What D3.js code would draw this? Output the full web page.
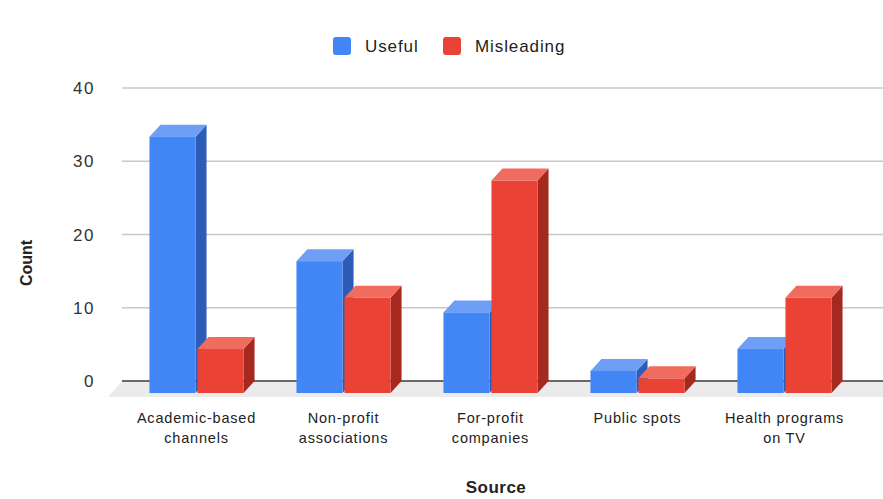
<!DOCTYPE html>
<html>
<head>
<meta charset="utf-8">
<script src="https://cdn.jsdelivr.net/npm/d3@7"></script>
<style>
  body { margin: 0; background: #fff; }
  text { font-family: "Liberation Sans", Arial, sans-serif; }
</style>
</head>
<body>
<script>
// data
const categories = ["Academic-based\nchannels", "Non-profit\nassociations", "For-profit\ncompanies", "Public spots", "Health programs\non TV"];
const seriesNames = ["Useful", "Misleading"];
const useful = [35, 18, 11, 3, 6];
const misleading = [6, 13, 29, 2, 13];
const yTicks = [0, 10, 20, 30, 40];

const W = 883, H = 499;
const depthX = 11, depthY = 12; // 3d offset of the back face

const colors = {
    Useful: { front: "#4285f4", top: "#6c9ff5", side: "#2c5cb8" },
    Misleading: { front: "#ea4335", top: "#ef6c5f", side: "#a5291e" }
};

const svg = d3.select("body").append("svg")
    .attr("width", W)
    .attr("height", H);

// scales -- gridlines sit on the back wall, bars stand in front of it
const x0 = d3.scaleBand()
    .domain(categories)
    .range([123, 858])
    .paddingInner(0.36)
    .paddingOuter(0.18);

const x1 = d3.scaleBand()
    .domain(seriesNames)
    .range([0, x0.bandwidth()])
    .paddingInner(0.04);

const y = d3.scaleLinear()
    .domain([0, 40])
    .range([381, 88]);

// gridlines
svg.append("g")
    .selectAll("line")
    .data(yTicks.filter(d => d > 0))
    .join("line")
    .attr("x1", 122)
    .attr("x2", W)
    .attr("y1", d => y(d))
    .attr("y2", d => y(d))
    .attr("stroke", "#c8c8c8")
    .attr("stroke-width", 1.5);

// floor
const y0 = y(0);
svg.append("path")
    .attr("d", `M122,${y0} L${W + 20},${y0} L${W + 20 - 14},${y0 + 16} L108,${y0 + 16} Z`)
    .attr("fill", "#ebebeb");

// baseline
svg.append("line")
    .attr("x1", 122)
    .attr("x2", W)
    .attr("y1", y0)
    .attr("y2", y0)
    .attr("stroke", "#3a3a3a")
    .attr("stroke-width", 1.5);

// y tick labels
svg.append("g")
    .selectAll("text")
    .data(yTicks)
    .join("text")
    .attr("x", 95)
    .attr("y", d => y(d))
    .attr("dy", "0.36em")
    .attr("text-anchor", "end")
    .attr("font-size", 17)
    .attr("letter-spacing", 1.5)
    .attr("fill", "#333")
    .text(d => d);

// bars
const rows = [];
categories.forEach((c, i) => {
    rows.push({ cat: c, key: "Useful", value: useful[i] });
    rows.push({ cat: c, key: "Misleading", value: misleading[i] });
});

const bars = svg.append("g")
    .selectAll("g")
    .data(rows)
    .join("g");

bars.each(function(d) {
    const g = d3.select(this);
    const w = x1.bandwidth();
    const xl = x0(d.cat) + x1(d.key);
    const xr = xl + w;
    const yt = y(d.value) + depthY; // front face top
    const yb = y0 + depthY;         // front face bottom
    const c = colors[d.key];

    // side
    g.append("path")
        .attr("d", `M${xr},${yt} L${xr + depthX},${yt - depthY} L${xr + depthX},${yb - depthY} L${xr},${yb} Z`)
        .attr("fill", c.side);
    // top
    g.append("path")
        .attr("d", `M${xl},${yt} L${xr},${yt} L${xr + depthX},${yt - depthY} L${xl + depthX},${yt - depthY} Z`)
        .attr("fill", c.top);
    // front
    g.append("rect")
        .attr("x", xl)
        .attr("y", yt)
        .attr("width", w)
        .attr("height", yb - yt)
        .attr("fill", c.front);
});

// x labels
const xl = svg.append("g")
    .selectAll("text")
    .data(categories)
    .join("text")
    .attr("text-anchor", "middle")
    .attr("font-size", 14.5)
    .attr("letter-spacing", 0.8)
    .attr("fill", "#222");

xl.each(function(d) {
    const t = d3.select(this);
    const cx = x0(d) + x0.bandwidth() / 2;
    d.split("\n").forEach((s, k) => {
        t.append("tspan")
            .attr("x", cx)
            .attr("y", 423 + k * 20)
            .text(s);
    });
});

// axis titles
svg.append("text")
    .attr("transform", "translate(32,263) rotate(-90)")
    .attr("text-anchor", "middle")
    .attr("font-size", 16)
    .attr("font-weight", "bold")
    .attr("fill", "#222")
    .text("Count");

svg.append("text")
    .attr("x", 496)
    .attr("y", 493)
    .attr("text-anchor", "middle")
    .attr("font-size", 17)
    .attr("font-weight", "bold")
    .attr("letter-spacing", 0.5)
    .attr("fill", "#222")
    .text("Source");

// legend
const legend = svg.append("g")
    .selectAll("g")
    .data(seriesNames)
    .join("g")
    .attr("transform", (d, i) => `translate(${i === 0 ? 333 : 443},37)`);

legend.append("rect")
    .attr("width", 18)
    .attr("height", 18)
    .attr("rx", 3)
    .attr("fill", d => colors[d].front);

legend.append("text")
    .attr("x", 32)
    .attr("y", 9)
    .attr("dy", "0.36em")
    .attr("font-size", 17)
    .attr("letter-spacing", 0.9)
    .attr("fill", "#222")
    .text(d => d);
</script>
</body>
</html>
